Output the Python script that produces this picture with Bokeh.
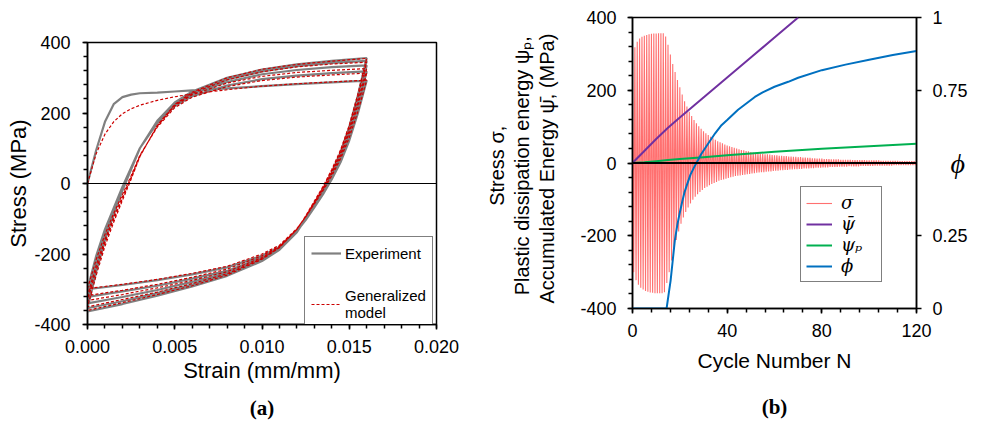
from bokeh.plotting import figure
from bokeh.layouts import row, column
from bokeh.models import (Range1d, LinearAxis, SingleIntervalTicker, FixedTicker,
                          NumeralTickFormatter, Span, Title, Legend, LegendItem)
from bokeh.embed import file_html
from bokeh.resources import INLINE

# ---------------- Panel (a) data: stress-strain hysteresis ----------------
STRAIN_UP = [0.0, 0.0005, 0.001, 0.0015, 0.002, 0.0025, 0.003, 0.004, 0.005,
             0.006, 0.008, 0.010, 0.012, 0.014, 0.016]
STRAIN_DOWN = [0.016, 0.0155, 0.015, 0.0145, 0.014, 0.0135, 0.013, 0.0125,
               0.012, 0.011, 0.010, 0.008, 0.006, 0.004, 0.002, 0.0]

EXP_FIRST = [0, 95, 175, 225, 245, 252, 256, 258, 261, 264, 270, 276, 282, 287, 292]
EXP_DOWN = [
    [292, 200, 122, 60, 12, -30, -68, -104, -135, -180, -205, -238, -258, -274, -288, -300],
    [318, 222, 140, 74, 22, -24, -64, -102, -136, -183, -210, -248, -270, -290, -306, -322],
    [335, 236, 150, 80, 25, -22, -62, -101, -137, -185, -214, -254, -279, -302, -322, -340],
    [348, 245, 156, 85, 28, -20, -61, -100, -137, -187, -218, -259, -287, -311, -334, -354],
    [356, 250, 160, 88, 30, -18, -60, -100, -138, -188, -220, -262, -292, -318, -342, -363],
]
EXP_UP = [
    [-300, -205, -130, -70, -10, 45, 100, 172, 220, 248, 278, 296, 306, 313, 318],
    [-322, -222, -142, -78, -15, 42, 100, 175, 225, 255, 288, 310, 322, 330, 335],
    [-340, -238, -152, -84, -18, 40, 100, 177, 228, 258, 295, 318, 333, 342, 348],
    [-354, -250, -160, -88, -20, 40, 100, 178, 230, 261, 300, 323, 338, 348, 356],
]

MOD_FIRST = [0, 85, 140, 175, 198, 212, 222, 236, 246, 254, 266, 276, 283, 288, 293]
MOD_DOWN = [
    [293, 205, 130, 70, 22, -20, -58, -95, -128, -175, -200, -235, -255, -272, -286, -298],
    [313, 222, 142, 78, 28, -17, -56, -95, -129, -178, -205, -243, -266, -286, -303, -318],
    [326, 232, 150, 84, 32, -14, -54, -94, -130, -180, -210, -250, -275, -296, -315, -332],
    [344, 246, 160, 91, 37, -10, -52, -93, -130, -181, -213, -256, -284, -308, -329, -350],
    [355, 255, 165, 95, 40, -8, -50, -92, -130, -182, -215, -260, -290, -315, -338, -360],
]
MOD_UP = [
    [-298, -215, -145, -85, -32, 22, 80, 160, 215, 245, 275, 292, 302, 308, 313],
    [-318, -232, -158, -95, -38, 18, 78, 163, 220, 252, 285, 304, 315, 321, 326],
    [-332, -245, -168, -103, -43, 15, 77, 164, 222, 256, 294, 317, 331, 339, 344],
    [-350, -260, -178, -110, -48, 12, 76, 165, 224, 259, 300, 324, 338, 347, 355],
]

# ---------------- Panel (b) data ----------------
SIGMA_MAX = [292, 318, 333, 342, 347, 350, 352, 354, 355, 356, 356, 357, 357, 357,
             348, 325, 298, 272, 250, 228, 208, 188, 170, 155, 141, 129, 118, 109,
             101, 94, 87, 82, 77, 72, 68, 64, 60, 57, 54, 51, 48, 46, 44, 42, 40,
             38, 36, 35, 33, 32, 30, 29, 28, 27, 26, 25, 24, 24, 23, 22, 21, 21,
             20, 20, 19, 19, 18, 18, 17, 17, 16, 16, 15, 15, 14, 14, 13, 13, 12,
             12, 12, 11, 11, 11, 10, 10, 10, 10, 9, 9, 9, 9, 9, 8, 8, 8, 8, 8, 8,
             7, 7, 7, 7, 7, 7, 6, 6, 6, 6, 6, 6, 6, 6, 5, 5, 5, 5, 5, 5, 5, 5]
SIGMA_MIN = [-300, -322, -335, -343, -348, -352, -354, -356, -357, -358, -358, -358,
             -358, -355, -330, -300, -268, -238, -212, -188, -167, -150, -135, -122,
             -111, -101, -93, -86, -80, -74, -69, -65, -61, -58, -55, -52, -49, -47,
             -45, -43, -41, -39, -38, -36, -35, -34, -33, -32, -31, -30, -29, -28,
             -27, -26, -25, -25, -24, -23, -23, -22, -21, -21, -20, -20, -19, -19,
             -18, -18, -17, -17, -16, -16, -15, -15, -15, -14, -14, -13, -13, -13,
             -12, -12, -12, -11, -11, -11, -11, -10, -10, -10, -10, -9, -9, -9, -9,
             -9, -8, -8, -8, -8, -8, -8, -7, -7, -7, -7, -7, -7, -7, -7, -6, -6, -6,
             -6, -6, -6, -6, -6, -6, -6, -6]

PSI_BAR_N = [0, 5, 10, 15, 20, 30, 40, 50, 60, 70]
PSI_BAR = [0, 33, 66, 97, 125, 180, 235, 290, 345, 400]

PSI_P_N = [0, 5, 10, 15, 20, 30, 40, 50, 60, 80, 100, 120]
PSI_P = [0, 2, 5, 8, 11, 16, 21, 26, 31, 39, 46, 53]

PHI_N = [0, 14.4, 15.2, 16.1, 17.0, 17.9, 19, 20, 21, 22, 23, 24.5, 26, 27.7, 29,
         32, 35, 37.6, 40, 44.6, 51.7, 55, 60, 65.8, 70, 80, 90, 100, 110, 120]
PHI = [0, 0, 0.045, 0.096, 0.165, 0.235, 0.29, 0.33, 0.367, 0.40, 0.425, 0.46,
       0.485, 0.51, 0.53, 0.567, 0.603, 0.63, 0.648, 0.683, 0.727, 0.743, 0.762,
       0.779, 0.793, 0.819, 0.838, 0.855, 0.871, 0.885]

X_TICKS_A = 0.005
Y_TICKS = 200
X_TICKS_B = 40
PHI_TICKS = [0, 0.25, 0.75, 1]
PHI_LABELS = {0: "0", 0.25: "0.25", 0.75: "0.75", 1: "1"}

Y_LABEL_B = ["Stress  \u03c3,",
             "Plastic dissipation energy  \u03c8\u209a,",
             "Accumulated Energy  \u03c8\u0304,  (MPa)"]

FONT = "Liberation Sans"
SERIF = "Liberation Serif"


def style_axis(ax, tick_size, label_size, standoff, label_standoff):
    ax.axis_line_color = "black"
    ax.axis_line_width = 1.5
    ax.major_tick_in = 0
    ax.major_tick_out = 5
    ax.minor_tick_in = 0
    ax.minor_tick_out = 4
    ax.major_tick_line_color = "black"
    ax.minor_tick_line_color = "black"
    ax.major_tick_line_width = 1.5
    ax.minor_tick_line_width = 1.5
    ax.major_label_text_font = FONT
    ax.major_label_text_font_size = tick_size
    ax.major_label_text_color = "black"
    ax.major_label_standoff = standoff
    ax.axis_label_text_font = FONT
    ax.axis_label_text_font_size = label_size
    ax.axis_label_text_font_style = "normal"
    ax.axis_label_text_color = "black"
    ax.axis_label_standoff = label_standoff


# ======================= Panel (a) =======================
pa = figure(frame_width=349, frame_height=282, min_border_left=87,
            min_border_right=26, min_border_top=42, min_border_bottom=91,
            x_range=Range1d(0, 0.02), y_range=Range1d(-400, 400),
            output_backend="svg", toolbar_location=None)
pa.xgrid.visible = False
pa.ygrid.visible = False
pa.outline_line_color = "black"
pa.outline_line_width = 1.5
pa.outline_line_alpha = 1.0

pa.xaxis.ticker = SingleIntervalTicker(interval=X_TICKS_A, num_minor_ticks=5)
pa.xaxis.formatter = NumeralTickFormatter(format="0.000")
pa.yaxis.ticker = SingleIntervalTicker(interval=Y_TICKS, num_minor_ticks=5)
pa.yaxis.formatter = NumeralTickFormatter(format="0")
pa.xaxis.axis_label = "Strain (mm/mm)"
pa.yaxis.axis_label = "Stress (MPa)"
style_axis(pa.xaxis[0], "18px", "22px", 10, 2)
style_axis(pa.yaxis[0], "18px", "22px", 12, 0)

pa.add_layout(Span(location=0, dimension="width", line_color="black", line_width=1.2))


def build_path(first, downs, ups):
    xs = list(STRAIN_UP)
    ys = list(first)
    for k, d in enumerate(downs):
        xs += STRAIN_DOWN[1:]
        ys += d[1:]
        if k < len(ups):
            xs += STRAIN_UP[1:]
            ys += ups[k][1:]
    return xs, ys


ex, ey = build_path(EXP_FIRST, EXP_DOWN, EXP_UP)
mx, my = build_path(MOD_FIRST, MOD_DOWN, MOD_UP)
r_exp = pa.line(ex, ey, line_color="#808080", line_width=2.2)
r_mod = pa.line(mx, my, line_color="#cc0000", line_width=1.2, line_dash="3 2")

leg_a = Legend(items=[LegendItem(label="Experiment", renderers=[r_exp]),
                      LegendItem(label="Generalized\nmodel", renderers=[r_mod])],
               location=(217, -4))
leg_a.label_text_font = FONT
leg_a.label_text_font_size = "15px"
leg_a.label_text_color = "black"
leg_a.glyph_width = 30
leg_a.label_standoff = 4
leg_a.padding = 6
leg_a.spacing = 24
leg_a.border_line_color = "black"
leg_a.border_line_width = 1.5
leg_a.background_fill_alpha = 1.0
pa.add_layout(leg_a)

pa.add_layout(Title(text="(a)", align="center", text_font=SERIF, text_color="black",
                    text_font_style="bold", text_font_size="21px", standoff=16), "below")

# ======================= Panel (b) =======================
pb = figure(frame_width=284, frame_height=291, min_border_left=170,
            min_border_right=55, min_border_top=17, min_border_bottom=107,
            x_range=Range1d(0, 120), y_range=Range1d(-400, 400),
            output_backend="svg", toolbar_location=None)
pb.extra_y_ranges = {"phi": Range1d(0, 1)}
pb.xgrid.visible = False
pb.ygrid.visible = False
pb.outline_line_color = "black"
pb.outline_line_width = 1.5
pb.outline_line_alpha = 1.0

pb.xaxis.ticker = SingleIntervalTicker(interval=X_TICKS_B, num_minor_ticks=5)
pb.yaxis.ticker = SingleIntervalTicker(interval=Y_TICKS, num_minor_ticks=5)
pb.yaxis.formatter = NumeralTickFormatter(format="0")
pb.xaxis.axis_label = "Cycle Number N"
pb.yaxis.axis_label = Y_LABEL_B[2]
style_axis(pb.xaxis[0], "18px", "21px", 10, 9)
style_axis(pb.yaxis[0], "18px", "20px", 11, 19)

# outer lines of the three-line vertical label
for txt in [Y_LABEL_B[1], Y_LABEL_B[0]]:
    pb.add_layout(Title(text=txt, align="center", text_font=FONT, text_color="black",
                        text_font_style="normal", text_font_size="20px",
                        standoff=1), "left")

ax_r = LinearAxis(y_range_name="phi", ticker=FixedTicker(ticks=PHI_TICKS),
                  major_label_overrides=PHI_LABELS)
style_axis(ax_r, "18px", "28px", 11, -20)
ax_r.minor_tick_out = 0
ax_r.axis_label = "\u03d5"
ax_r.axis_label_text_font = SERIF
ax_r.axis_label_text_font_style = "italic"
ax_r.axis_label_orientation = "horizontal"
pb.add_layout(ax_r, "right")

sig_x, sig_y = [], []
for n in range(len(SIGMA_MAX)):
    sig_x += [n, n + 0.5]
    sig_y += [SIGMA_MAX[n], SIGMA_MIN[n]]
r_sig = pb.line(sig_x, sig_y, line_color="#ff4040", line_width=1.1, line_alpha=0.75)

zero_b = Span(location=0, dimension="width", line_color="black", line_width=2,
              level="glyph")
pb.add_layout(zero_b)

r_pb = pb.line(PSI_BAR_N, PSI_BAR, line_color="#7030a0", line_width=2)
r_pp = pb.line(PSI_P_N, PSI_P, line_color="#00b050", line_width=2)
r_phi = pb.line(PHI_N, PHI, line_color="#0070c0", line_width=2, y_range_name="phi")

leg_b = Legend(items=[LegendItem(label="\u03c3", renderers=[r_sig]),
                      LegendItem(label="\u03c8\u0304", renderers=[r_pb]),
                      LegendItem(label="\u03c8\u209a", renderers=[r_pp]),
                      LegendItem(label="\u03d5", renderers=[r_phi])],
               location=(168, 26))
leg_b.label_text_font = "DejaVu Serif"
leg_b.label_text_font_style = "italic"
leg_b.label_text_font_size = "18px"
leg_b.label_text_color = "black"
leg_b.glyph_width = 26
leg_b.label_standoff = 9
leg_b.label_width = 35
leg_b.padding = 5
leg_b.spacing = 0
leg_b.border_line_color = "black"
leg_b.border_line_width = 1.5
leg_b.background_fill_alpha = 1.0
pb.add_layout(leg_b)

pb.add_layout(Title(text="(b)", align="center", text_font=SERIF, text_color="black",
                    text_font_style="bold", text_font_size="21px", standoff=37),
              "below")

layout = row(column(pa), column(pb))
open("out.html", "w").write(file_html(layout, INLINE))
